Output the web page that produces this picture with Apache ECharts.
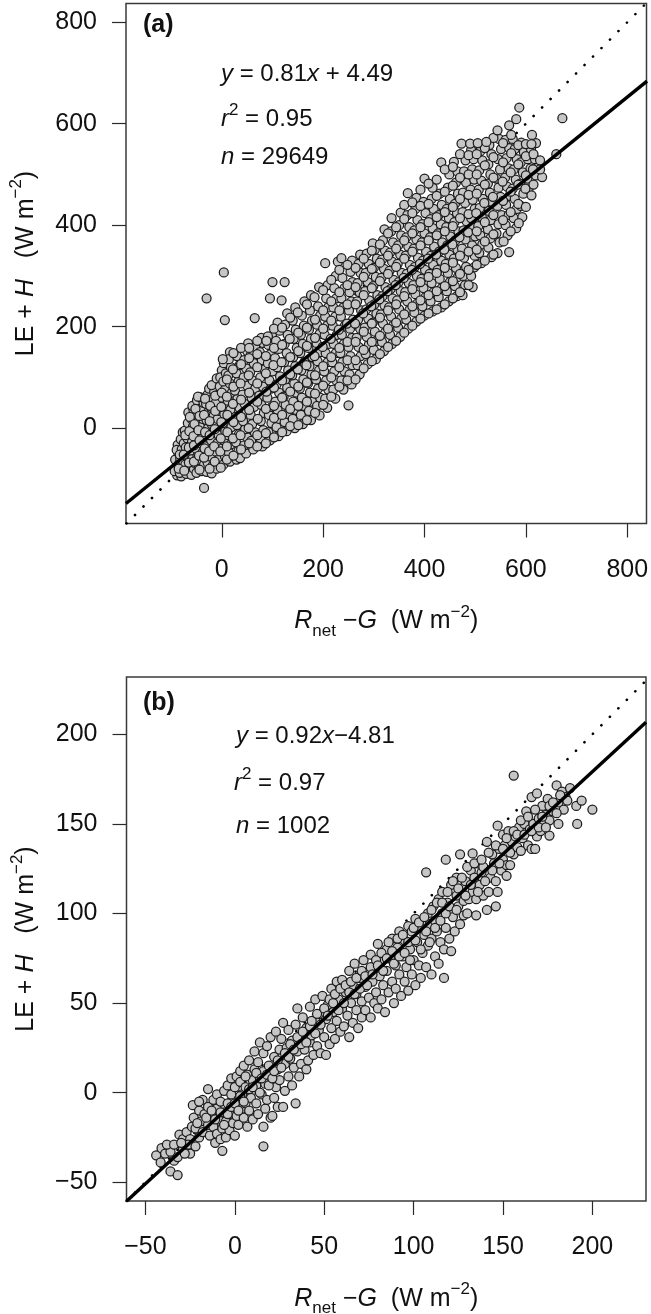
<!DOCTYPE html>
<html><head><meta charset="utf-8">
<style>html,body{margin:0;padding:0;background:#fff}#c{width:651px;height:1314px}</style>
<script src="https://cdn.jsdelivr.net/npm/echarts@6/dist/echarts.min.js"></script>
</head><body><div id="c"></div>
<script>
const ticksAX = [0,200,400,600,800];
const ticksAY = [0,200,400,600,800];
const ticksBX = [-50,0,50,100,150,200];
const ticksBY = [-50,0,50,100,150,200];
const fitA = [[-189,-148.6],[839,684]];
const fitB = [[-60.6,-60.6],[230,206.8]];
const oneToOneA = [[-188,-188],[837,837]];
const oneToOneB = [[-60.5,-60.5],[232,232]];
const outliersA = [-35,-118, -30,256, 4,307, 6,213, 65,217, 100,288, 124,288, 95,256, 118,252, 204,325, 250,45,
 672,611, 660,540, 587,632, 581,609, 567,597, 544,587, 473,561, 490,561, 505,562, 522,564, 620,562, 612,578, 611,560];
const pointsA = [
-92,-62,-88,-93,-90,-78,-86,-48,-93,-85,-84,-70,-87,-33,-89,-43,
-80,-95,-78,-80,-82,-60,-79,-42,-81,-22,-77,-8,-76,-66,-83,-88,-75,-30,
-70,-90,-72,-72,-69,-55,-71,-38,-68,-20,-73,-5,-67,10,-66,31,-66,-82,-64,-48,
-60,-92,-62,-74,-58,-60,-61,-44,-59,-28,-63,-12,-57,3,-60,18,-56,36,-58,44,-55,-80,
-50,-88,-52,-70,-48,-55,-51,-40,-49,-22,-53,-6,-47,12,-50,28,-46,44,-49,55,-45,-75,
-40,-85,-42,-64,-38,-48,-41,-30,-39,-15,-43,2,-37,18,-40,35,-36,50,-43,61,-35,-72,
-30,-86,-28,-68,-32,-50,-29,-34,-31,-18,-27,0,-30,16,-26,32,-31,48,-28,66,-25,78,
-20,-89,-18,-74,-22,-56,-19,-40,-21,-24,-17,-8,-20,8,-16,24,-21,40,-18,58,-15,72,-20,85,-10,98,
-10,-80,-7,-62,-12,-46,-9,-30,-6,-14,-11,4,-8,18,-5,34,-12,50,-7,66,-4,82,0,114,-3,100,
3,-72,6,-55,1,-40,4,-24,7,-6,2,10,5,28,8,44,1,60,6,76,3,92,8,108,4,128,
16,-66,14,-48,18,-32,13,-14,19,2,15,20,17,36,12,54,20,70,16,88,13,104,18,120,16,150,14,136,
29,-62,33,-45,28,-28,34,-12,30,6,27,22,35,40,31,58,26,74,33,92,29,108,35,124,30,142,
36,-59,48,-50,44,-34,50,-18,46,-2,42,14,49,32,45,48,41,66,50,84,43,100,48,118,44,134,50,152,52,167,
62,-42,58,-25,65,-8,60,8,57,26,64,42,59,60,66,78,61,94,56,110,63,128,58,146,66,160,
80,-36,76,-20,82,-4,77,14,83,30,78,46,74,64,81,82,76,100,84,116,79,134,75,150,82,168,78,178,
95,-24,92,-8,98,10,93,26,99,42,90,60,97,78,94,94,100,112,91,128,96,146,92,164,99,182,91,181,
112,-16,108,2,114,18,110,36,106,52,113,70,108,86,115,102,109,120,105,138,112,156,107,172,114,192,110,208,
128,-6,124,12,130,28,126,46,122,62,129,80,125,96,131,114,123,130,128,148,124,166,130,184,125,204,129,226,
144,0,140,18,146,36,141,52,147,70,143,88,139,104,145,122,141,140,148,158,142,176,146,194,140,212,145,238,
160,8,156,26,162,44,158,60,154,78,161,96,157,114,163,130,155,148,160,166,156,184,162,202,158,222,163,250,
176,16,172,34,178,52,174,70,170,88,177,106,173,122,179,140,171,158,176,176,172,194,178,212,174,232,176,262,
193,25,188,44,194,60,190,78,186,96,192,114,189,132,195,150,187,168,193,186,188,204,194,222,190,240,192,278,
208,40,204,58,210,76,206,94,202,112,209,130,205,148,211,166,203,184,208,202,204,220,210,238,206,256,209,282,
224,58,220,76,226,94,222,112,218,130,225,148,221,166,227,184,219,202,224,220,220,238,226,256,222,276,225,300,229,328,
240,76,236,94,242,112,238,130,234,148,241,166,237,184,243,202,235,220,240,238,236,256,242,276,238,296,236,335,
256,86,252,106,258,124,254,142,250,160,257,178,253,196,259,214,251,232,256,250,252,268,258,288,254,308,257,330,
272,106,268,124,274,142,270,160,266,178,273,196,269,214,275,232,267,250,272,268,268,286,274,306,270,324,273,342,
288,126,284,146,290,164,286,180,282,198,289,216,285,234,291,252,283,270,288,288,284,306,290,324,286,344,
304,136,300,154,306,172,302,190,298,208,305,226,301,244,307,262,299,280,304,298,300,316,306,334,302,352,298,364,
320,152,316,170,322,188,318,206,314,224,321,242,317,260,323,278,315,296,320,314,316,332,322,350,318,370,321,392,
336,166,332,184,338,202,334,220,330,238,337,256,333,274,339,292,331,310,336,328,332,346,338,366,334,388,335,414,
352,180,348,198,354,216,350,234,346,252,353,270,349,288,355,306,347,324,352,342,348,360,354,380,350,400,353,425,
368,196,364,214,370,232,366,250,362,268,369,286,365,304,371,322,363,340,368,358,364,376,370,396,366,420,367,463,
384,210,380,228,386,246,382,264,378,282,385,300,381,318,387,336,379,354,384,372,380,390,386,410,382,432,384,454,
400,222,396,240,402,258,398,276,394,294,401,312,397,330,403,348,395,366,400,384,396,402,402,424,398,446,400,492,
416,230,412,250,418,268,414,286,410,304,417,322,413,340,419,358,411,376,416,394,412,412,418,432,414,452,416,474,
433,238,428,258,434,276,430,294,426,312,433,330,429,348,435,366,427,384,432,402,428,420,434,440,430,462,433,524,
448,250,444,270,450,288,446,306,442,324,449,342,445,360,451,378,443,396,448,414,444,432,450,452,446,474,449,500,
464,260,460,280,466,298,462,316,458,334,465,352,461,370,467,388,459,406,464,424,460,442,466,462,462,484,465,506,458,525,
475,262,480,282,476,300,482,318,478,336,474,354,481,372,477,390,483,408,475,426,480,444,476,464,482,484,478,506,481,528,
495,278,498,317,492,300,499,340,494,360,500,378,496,396,492,414,499,432,495,450,491,470,498,490,494,510,497,530,492,548,
512,325,508,345,514,362,510,380,506,398,513,416,509,434,515,452,507,470,512,488,508,508,514,528,510,546,
532,337,526,356,530,374,525,392,531,410,527,428,533,446,529,464,525,482,530,500,526,520,532,540,528,558,
544,345,548,366,542,384,546,402,552,420,544,438,550,456,546,474,542,492,549,510,545,530,551,550,547,570,
564,380,567,347,560,400,566,420,561,440,568,458,563,476,559,494,566,512,562,532,567,552,560,568,
581,394,576,414,582,432,578,452,574,472,580,490,576,510,582,530,578,550,574,570,
593,416,590,438,595,462,589,482,594,504,590,524,596,544,591,563,
605,470,611,459,603,492,609,512,604,530,610,550,
620,498,625,515,618,530,632,495,628,510,
];
const pointsA2 = [
-85,-80,-83,-52,-74,-84,-75,-52,-72,-14,-65,-68,-65,-38,-64,-6,-63,22,-55,-66,-55,-34,-56,-16,-54,8,-52,38,
-44,-82,-45,-54,-44,-24,-46,-4,-44,24,-47,62,-35,-58,-34,-40,-33,-8,-35,26,-33,58,-24,-80,-25,-46,-24,-14,-24,14,-23,44,
-14,-66,-15,-36,-14,-2,-13,34,-13,64,-2,-78,-3,-46,-2,-20,-1,12,-1,42,0,70,2,136,10,-62,10,-36,11,-8,11,26,10,62,10,96,
23,-54,22,-20,23,12,22,48,23,82,22,116,23,148,38,-42,37,-14,38,22,38,56,37,88,38,126,38,158,
54,-30,53,0,54,36,54,70,53,104,54,138,54,158,70,-36,70,-14,71,18,70,52,70,88,70,120,70,146,70,172,
87,-30,87,-10,87,38,88,72,87,108,87,142,88,172,103,-18,103,20,103,44,103,80,102,124,103,158,103,196,
119,-8,119,26,119,60,119,94,118,130,119,164,119,198,135,4,135,38,135,72,135,106,135,140,134,176,135,218,
151,6,151,44,151,82,150,116,151,152,151,188,150,228,168,16,168,52,168,90,167,124,168,162,168,198,168,244,
184,30,184,68,184,104,183,142,184,178,184,214,183,258,200,46,200,84,200,122,199,160,200,196,200,232,200,272,
216,62,216,100,216,140,215,176,216,212,216,250,216,292,232,82,232,120,232,158,231,194,232,232,232,268,232,312,
248,94,248,134,248,170,247,206,248,244,248,282,248,322,264,96,264,134,264,170,263,206,264,244,264,278,264,316,
280,118,280,154,280,190,279,226,280,262,280,298,280,334,296,132,296,170,296,206,295,240,296,276,296,314,296,350,
312,146,312,182,312,218,311,254,312,290,312,326,312,362,328,160,328,196,328,232,327,270,328,304,328,340,328,384,
344,172,344,208,344,244,343,282,344,318,344,354,344,396,360,188,360,224,360,260,359,296,360,334,360,370,360,412,360,440,
376,202,376,240,376,274,375,312,376,348,376,384,376,424,376,445,392,216,392,252,392,288,391,324,392,360,392,396,392,438,392,470,
408,226,408,262,408,298,407,334,408,370,408,406,408,442,408,482,424,234,424,270,424,306,423,342,424,380,424,416,424,458,424,490,
440,244,440,280,440,316,439,352,440,388,440,426,440,466,440,510,456,256,456,290,456,326,455,362,456,398,456,436,456,478,456,515,
470,268,470,304,470,340,469,376,470,414,470,452,470,494,470,540,487,282,487,312,487,348,486,386,487,422,487,460,487,500,487,538,
503,322,503,352,503,388,502,424,503,462,503,500,503,540,519,330,519,368,519,406,518,444,519,480,519,518,519,552,
536,342,536,382,536,420,535,456,536,494,536,534,536,572,556,368,555,410,555,448,554,486,555,524,555,562,
570,388,570,426,570,466,570,504,571,542,571,578,586,404,585,442,585,480,585,520,585,558,600,436,599,472,600,498,600,536,600,560,
615,480,614,510,615,540,628,528,
];
const pointsB = [
-44,-35,-41,-31,-41.5,-39,-36,-44,-32,-46,-39,-34,-36,-33,-34,-38,-38,-29,
-32,-36,-31,-23.5,-34,-29,-29,-31,-29,-26,-27,-22,-25,-34,-25,-26,-24,-19,-26,-29,
-22,-30,-23.5,-7,-23,-14,-22,-20,-20,-25,-20,-10,-19,-16,-18,-4,-20,-5,-18,-22,-17,-12,-15,2,
-15,-18,-15,-8,-14,-24,-13,-13,-12,-4,-12,-19,-11,-28,-10,-9,-10,-23,-10,-1,-9,-15,-8,-26,-7,-32.5,-8,-5,
-7,-20,-6,-11,-6,1,-5,-25,-5,-16,-4,-6,-4,4,-3,-21,-3,-12,-2,-1,-2,8,-1,-17,-1,-8,0,3,0,-24,
1,-13,1,9,2,-4,2,-18,3,6,3,12,4,-9,4,-1,5,-14,5,15,6,3,6,-6,7,-19,7,10,
8,-10,8,18,9,0,9,-3,10,7,10,-15,11,23,11,13,12,-6,12,4,13,-12,13,17,14,28,14,8,
16,-30,16,-19,15,-1,16,12,16,22,17,5,17,-9,18,26,18,-4,19,15,20,-14,20,9,20,31,
21,-13,22,20,22,-3,23,3,23,34,24,13,24,-8,25,24,25,7,26,30,27,-8,27,39,28,16,
28,1,29,25,30,9,30,35,31,19,32,4,32,29,33,14,34,-6,34,38,35,47,35,23,
36,9,37,31,37,16,38,42,39,24,40,13,40,36,41,18,42,48,42,28,43,32,44,21,
45,40,45,52,46,26,47,35,48,44,48,22,49,54,50,31,51,21,51,41,52,49,53,27,
54,58,54,36,55,45,56,30,57,62,57,40,58,52,59,34,60,47,60,63,61,37,62,56,
63,43,64,68,64,31,65,50,66,39,66,60,67,72,68,46,68,55,69,36,70,64,71,51,
71,42,72,74,73,59,73,46,74,67,75,53,76,42,76,77,77,62,78,50,78,70,79,56,
80,47,80,83,81,65,82,73,82,52,83,60,84,45,85,80,85,68,86,56,87,75,88,62,
88,86,89,50,90,71,90,58,91,81,92,66,92,90,93,54,94,76,95,62,95,85,96,70,
97,93,97,57,98,80,99,66,99,90,100,74,101,60,101,97,102,84,103,71,104,92,104,64,
105,78,106,88,107,123,107,70,108,100,108,82,109,94,110,66,110,86,111,104,112,76,112,96,
113,90,114,108,114,72,115,84,116,100,116,112,117,64,117,80,118,130,118,92,119,106,120,86,
121,79,121,116,122,98,123,90,124,110,124,120,125,104,126,133,126,94,127,114,128,99,128,107,
129,118,130,100,131,108,132,124,133,133.5,133,112,134,120,135,99,135,108,136,128,137,116,138,123,
139,126,139,110,141,102,141,140,142,112,143,120,144,133,145,128,146,104,146,118,147,112,147,149,
148,136,149,124,150,130,150,144,151,138,152,121,152,127,153,146,154,127,155,140,156,177,156,133,
157,143,158,137,159,148,160,135,161,142,162,150,163,157,164,138,165,147,166,165,166,136,167,150,
168,136,169,167,169,143,170,153,171,146,172,160,173,150,174,155,175,164,176,143.5,176,152,178,157,
180,171.5,181,150,181,162,183,168,184,158,185,165,187.5,170,186,163,191,160,191.5,150,194,163,200,158,
];
const pointsB2 = [
-30,-28,-28,-34,-21,-17,-16,-14,-13,-10,-11,-15,-8,-11,-6,-18,-4,-12,-2,-8,0,-6,2,-10,3,-2,5,-5,6,9,8,2,10,3,12,11,
14,0,15,8,18,10,19,4,21,8,22,12,24,18,26,14,28,22,30,20,31,27,33,24,35,31,37,27,38,34,40,28,42,37,43,40,45,33,
46,44,48,38,50,47,52,43,53,52,55,50,56,55,58,46,59,58,61,50,62,60,64,56,65,62,67,55,68,64,70,58,71,68,73,65,
74,60,76,70,77,66,79,74,80,71,82,78,83,68,85,75,86,84,88,79,89,72,91,86,92,76,94,88,95,78,97,84,98,74,100,92,
101,85,103,95,104,80,106,98,107,90,109,84,110,102,112,92,113,106,115,96,116,106,118,100,119,112,120,104,122,118,124,102,
125,114,127,120,129,110,130,126,132,116,134,128,136,112,138,130,140,118,142,134,144,124,146,138,148,128,150,136,152,142,154,134,
156,146,158,144,160,152,162,144,164,154,166,146,168,158,170,148,172,154,174,148,176,160,178,162,180,156,182,166,
];
const pairs = f => { const out = []; for (let i = 0; i < f.length; i += 2) out.push([f[i], f[i+1]]); return out; };
const FONT = '"Liberation Sans", Arial, sans-serif';
const INK = '#2a2a2a';
const rich = {
  n:{fontFamily:FONT,fontSize:25,color:'#111',lineHeight:36},
  i:{fontFamily:FONT,fontSize:25,fontStyle:'italic',color:'#111',lineHeight:36},
  sup:{fontFamily:FONT,fontSize:17,color:'#111',verticalAlign:'top',lineHeight:17},
  sub:{fontFamily:FONT,fontSize:17,color:'#111',verticalAlign:'bottom',lineHeight:17},
};
const eq = {
  n:{fontFamily:FONT,fontSize:24,color:'#111',lineHeight:34},
  i:{fontFamily:FONT,fontSize:24,fontStyle:'italic',color:'#111',lineHeight:34},
  sup:{fontFamily:FONT,fontSize:17,color:'#111',verticalAlign:'top',lineHeight:17},
};
const yName = '{n|LE + }{i|H}{n|   (W m}{sup|−2}{n|)}';
const xName = '{i|R}{sub|net}{n| −}{i|G}{n|  (W m}{sup|−2}{n|)}';
function xAxis(idx,min,max,ticks){return {gridIndex:idx,type:'value',min,max,splitLine:{show:false},
  axisLine:{show:false,onZero:false},axisTick:{show:true,length:14,lineStyle:{color:INK,width:1.2},customValues:ticks},
  axisLabel:{color:'#111',fontFamily:FONT,fontSize:25,margin:34,customValues:ticks,formatter:v=>String(v).replace('-','−')},
  name:xName,nameLocation:'middle',nameGap:80,nameTextStyle:{rich}};}
function yAxis(idx,min,max,ticks){return {gridIndex:idx,type:'value',min,max,splitLine:{show:false},
  axisLine:{show:false,onZero:false},axisTick:{show:true,length:14,lineStyle:{color:INK,width:1.2},customValues:ticks},
  axisLabel:{color:'#111',fontFamily:FONT,fontSize:25,margin:29,customValues:ticks,formatter:v=>String(v).replace('-','−')},
  name:yName,nameLocation:'middle',nameGap:82,nameTextStyle:{rich}};}
function layer(idx,pts,fit,one){return [
  {type:'line',xAxisIndex:idx,yAxisIndex:idx,data:one,symbol:'none',z:1,lineStyle:{color:'#000',width:2.6,type:[0.1,11.9],cap:'round'}},
  {type:'scatter',xAxisIndex:idx,yAxisIndex:idx,data:pts,symbol:'circle',symbolSize:9,z:2,
    itemStyle:{color:'#c6c6c6',borderColor:'#1c1c1c',borderWidth:1.25,opacity:1}},
  {type:'line',xAxisIndex:idx,yAxisIndex:idx,data:fit,symbol:'none',z:3,lineStyle:{color:'#000',width:3.4}},
];}
function label(x,y,text){return {type:'text',left:x,top:y,z:10,style:{text,rich:eq,font:`24px ${FONT}`,fill:'#111'}};}
const chart = echarts.init(document.getElementById('c'),null,{renderer:'canvas'});
chart.setOption({
  animation:false,backgroundColor:'#fff',
  grid:[
    {left:126,top:3.5,width:520.5,height:520,show:true,outerBoundsMode:'none',containLabel:false,borderColor:'#3a3a3a',borderWidth:1.5,backgroundColor:'transparent'},
    {left:126.5,top:677,width:519.5,height:524,show:true,outerBoundsMode:'none',containLabel:false,borderColor:'#3a3a3a',borderWidth:1.5,backgroundColor:'transparent'},
  ],
  xAxis:[xAxis(0,-189,838,ticksAX),xAxis(1,-60.6,230,ticksBX)],
  yAxis:[yAxis(0,-188,837,ticksAY),yAxis(1,-60.5,232,ticksBY)],
  series:[
    ...layer(0,pairs(pointsA).concat(pairs(pointsA2),pairs(outliersA)),fitA,oneToOneA),
    ...layer(1,pairs(pointsB).concat(pairs(pointsB2)),fitB,oneToOneB),
  ],
  graphic:[
    {type:'text',left:143,top:13,z:10,style:{text:'(a)',font:`bold 25px ${FONT}`,fill:'#111'}},
    {type:'text',left:143,top:691,z:10,style:{text:'(b)',font:`bold 25px ${FONT}`,fill:'#111'}},
    label(221,62,'{i|y}{n| = 0.81}{i|x}{n| + 4.49}'),
    label(221,102,'{i|r}{sup|2}{n| = 0.95}'),
    label(221,145,'{i|n}{n| = 29649}'),
    label(236,724,'{i|y}{n| = 0.92}{i|x}{n|−4.81}'),
    label(234,766,'{i|r}{sup|2}{n| = 0.97}'),
    label(236,814,'{i|n}{n| = 1002}'),
  ],
});
</script></body></html>
